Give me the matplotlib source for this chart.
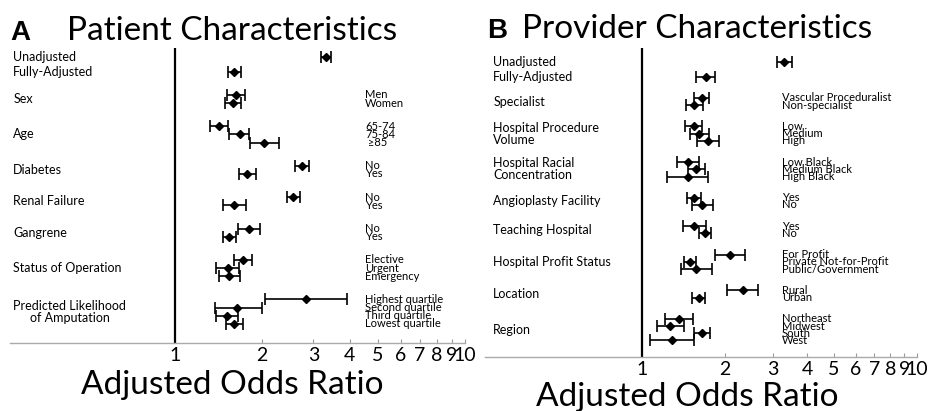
import matplotlib
matplotlib.use("Agg")
import matplotlib.pyplot as plt
import matplotlib.transforms as mtransforms
import numpy as np

plt.rcParams['font.family'] = ['Lato', 'DejaVu Sans']

# Panel A - patient characteristics
a_groups = ["Unadjusted", "Fully-Adjusted", "Sex", "Age", "Diabetes", "Renal Failure",
            "Gangrene", "Status of Operation", "Predicted Likelihood\nof Amputation"]
a_levels = [[""], [""], ["Men", "Women"], ["65-74", "75-84", " ≥85"], ["No", "Yes"],
            ["No", "Yes"], ["No", "Yes"], ["Elective", "Urgent", "Emergency"],
            ["Highest quartile", "Second quartile", "Third quartile", "Lowest quartile"]]
a_or = [3.33, 1.60, 1.62, 1.58, 1.42, 1.67, 2.03, 2.74, 1.77, 2.55, 1.60, 1.80, 1.54,
        1.72, 1.52, 1.54, 2.83, 1.64, 1.51, 1.60]
a_lo = [3.20, 1.52, 1.51, 1.49, 1.32, 1.54, 1.82, 2.60, 1.66, 2.44, 1.47, 1.65, 1.46,
        1.60, 1.38, 1.42, 2.04, 1.37, 1.39, 1.50]
a_hi = [3.46, 1.69, 1.75, 1.69, 1.52, 1.80, 2.29, 2.91, 1.90, 2.69, 1.76, 1.97, 1.63,
        1.85, 1.66, 1.67, 3.93, 2.00, 1.65, 1.71]

# Panel B - provider characteristics
b_groups = ["Unadjusted", "Fully-Adjusted", "Specialist", "Hospital Procedure\nVolume",
            "Hospital Racial\nConcentration", "Angioplasty Facility", "Teaching Hospital",
            "Hospital Profit Status", "Location", "Region"]
b_levels = [[""], [""], ["Vascular Proceduralist", "Non-specialist"], ["Low", "Medium", "High"],
            ["Low Black", "Medium Black", "High Black"], ["Yes", "No"], ["Yes", "No"],
            ["For Profit", "Private Not-for-Profit", "Public/Government"], ["Rural", "Urban"],
            ["Northeast", "Midwest", "South", "West"]]
b_or = [3.29, 1.71, 1.66, 1.55, 1.55, 1.62, 1.74, 1.47, 1.58, 1.47, 1.55, 1.66, 1.55,
        1.70, 2.10, 1.50, 1.58, 2.33, 1.61, 1.37, 1.27, 1.66, 1.29]
b_lo = [3.09, 1.58, 1.55, 1.45, 1.44, 1.50, 1.59, 1.34, 1.48, 1.24, 1.46, 1.53, 1.41,
        1.61, 1.85, 1.42, 1.39, 2.05, 1.53, 1.22, 1.14, 1.55, 1.07]
b_hi = [3.53, 1.85, 1.76, 1.67, 1.66, 1.76, 1.91, 1.61, 1.70, 1.74, 1.65, 1.81, 1.71,
        1.79, 2.37, 1.58, 1.80, 2.65, 1.70, 1.54, 1.42, 1.77, 1.55]

ticks = [1, 2, 3, 4, 5, 6, 7, 8, 9, 10]


def layout(levels, first_gap, gap):
    """row positions (one unit per level) and the centre of each group"""
    rows, centres = [], []
    y = 0.0
    for i, lv in enumerate(levels):
        if i == 1:
            y += first_gap
        elif i > 1:
            y += gap
        pos = [y + k for k in range(len(lv))]
        rows += pos
        centres.append(np.mean(pos))
        y = pos[-1]
    return rows, centres


def forest(ax, groups, levels, ors, lo, hi, first_gap, gap, ylim, left_x, right_x,
           multi='left'):
    rows, centres = layout(levels, first_gap, gap)
    ors, lo, hi = np.array(ors), np.array(lo), np.array(hi)
    ax.errorbar(ors, rows, xerr=[ors - lo, hi - ors], fmt='D', color='black', ms=4.5,
                capsize=4, elinewidth=1.2, capthick=1.2)
    ax.axvline(1, color='black', lw=1.6)
    ax.set_xscale('log')
    ax.set_xlim(0.27, 10)
    ax.set_ylim(*ylim)
    ax.set_yticks([])
    ax.set_xticks(ticks)
    ax.set_xticklabels([str(t) for t in ticks])
    ax.minorticks_off()
    ax.tick_params(axis='x', direction='in', length=3, color='#999999', labelsize=14, pad=3)
    for s in ['top', 'right', 'left']:
        ax.spines[s].set_visible(False)
    ax.spines['bottom'].set_color('#aaaaaa')
    ax.spines['bottom'].set_linewidth(1.0)

    trans = mtransforms.blended_transform_factory(ax.transAxes, ax.transData)
    # first two rows carry their own label
    ax.text(left_x, rows[0], groups[0], transform=trans, va='center', ha='left', fontsize=9)
    ax.text(left_x, rows[1], groups[1], transform=trans, va='center', ha='left', fontsize=9)
    for g, c in zip(groups[2:], centres[2:]):
        ax.text(left_x, c, g, transform=trans, va='center', ha='left', fontsize=9,
                multialignment=multi, linespacing=1.0)
    labels = [l for lv in levels for l in lv]
    for l, r in zip(labels, rows):
        if l:
            ax.text(right_x, r, l, transform=trans, va='center', ha='left', fontsize=8)


fig = plt.figure(figsize=(9.29, 4.11), dpi=100)

axA = fig.add_axes([10 / 929, 1 - 343 / 411, 455 / 929, 295 / 411])
forest(axA, a_groups, a_levels, a_or, a_lo, a_hi, 1.8, 2.85, (35.1, -1.1), 0.007, 0.78,
       multi='center')
axA.text(0.488, -0.142, "Adjusted Odds Ratio", transform=axA.transAxes, ha='center',
         va='center', fontsize=24)

axB = fig.add_axes([485 / 929, 1 - 357 / 411, 432 / 929, 309 / 411])
forest(axB, b_groups, b_levels, b_or, b_lo, b_hi, 2.0, 2.95, (40.9, -1.99), 0.019, 0.6875)
axB.text(0.469, -0.13, "Adjusted Odds Ratio", transform=axB.transAxes, ha='center',
         va='center', fontsize=24)

# panel titles
fig.text(10 / 929, 1 - 40 / 411, "A", fontsize=20, fontweight='bold',
         family='Liberation Sans', va='baseline')
fig.text(67 / 929, 1 - 40 / 411, "Patient Characteristics", fontsize=24, va='baseline')
fig.text(487 / 929, 1 - 38 / 411, "B", fontsize=20, fontweight='bold',
         family='Liberation Sans', va='baseline')
fig.text(522 / 929, 1 - 38 / 411, "Provider Characteristics", fontsize=24, va='baseline')

fig.savefig("out.png", dpi=100)
